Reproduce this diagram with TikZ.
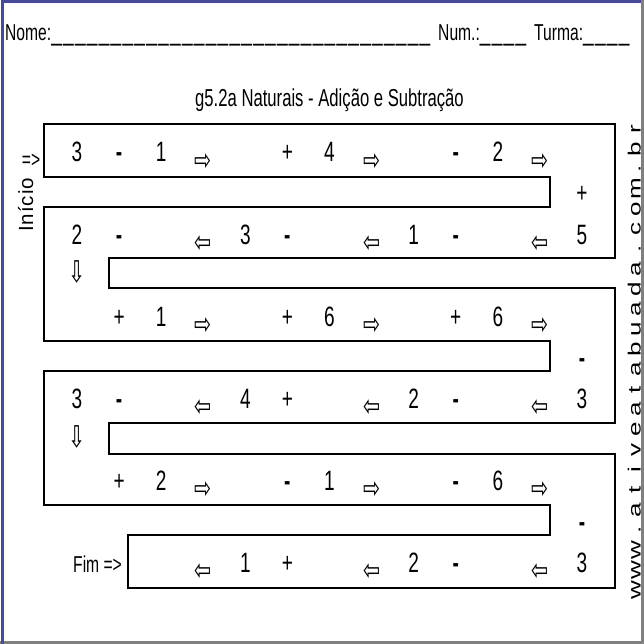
\documentclass[tikz,border=0pt]{standalone}
\usepackage{fontspec}
\setmainfont{Liberation Sans}
\newfontfamily\nar{Liberation Sans}[FakeStretch=0.68]
\newfontfamily\arrfont{DejaVu Sans}[FakeStretch=0.68]
\newfontfamily\widefont{Liberation Sans}[FakeStretch=1.47]
\definecolor{frameblue}{RGB}{72,72,160}
\definecolor{framegray}{RGB}{128,128,128}
\newcommand\colx[1]{77+42.08*#1}
\newcommand\mn{\bfseries -}
\newcommand\us{{\fontsize{28}{28}\selectfont\_}\kern1.3pt}
\tikzset{
  dig/.style={anchor=base, inner sep=0pt, font=\nar\fontsize{28}{28}\selectfont},
  arr/.style={anchor=center, inner sep=0pt, font=\arrfont\fontsize{30}{30}\selectfont},
  darr/.style={anchor=center, inner sep=0pt, font=\arrfont\fontsize{30}{30}\selectfont},
  lab/.style={anchor=base west, inner sep=0pt, font=\nar\fontsize{23}{23}\selectfont},
  wall/.style={draw=black, line width=1.4pt, line join=miter},
  vert/.style={rotate=90, anchor=base, inner sep=0pt, font=\widefont\fontsize{17.7}{17.7}\selectfont}
}
\begin{document}
\begin{tikzpicture}[x=1pt,y=-1pt]
\useasboundingbox (0,0) rectangle (644,644);
\fill[white] (0,0) rectangle (644,644);
% frame
\draw[framegray, line width=3pt] (642.5,0) -- (642.5,642.5) -- (0,642.5);
\draw[frameblue, line width=3pt] (2.5,644) -- (2.5,1.5) -- (641,1.5);
% header
\node[lab] (nome) at (5,41) {Nome:\us\us\us\us\us\us\us\us\us\us\us\us\us\us\us\us\us\us\us\us\us\us\us\us\us\us\us\us\us\us\us\us};
\node[lab] (num) at (438,41) {Num.:\us\us\us\us};
\node[lab] (turma) at (534,41) {Turma:\us\us\us\us};
\node[anchor=base, inner sep=0pt, font=\nar\fontsize{24.5}{24.5}\selectfont] (title) at (329.5,107) {g5.2a Naturais - Adição e Subtração};
% snake outline
\draw[wall] (44,177) -- (44,124) -- (615,124) -- (615,258) -- (109,258) -- (109,288)
  -- (615,288) -- (615,423) -- (109,423) -- (109,454) -- (615,454) -- (615,588)
  -- (128,588) -- (128,535) -- (550,535) -- (550,505) -- (44,505) -- (44,371)
  -- (550,371) -- (550,341) -- (44,341) -- (44,207) -- (550,207) -- (550,177) -- cycle;
% labels
\node[lab, anchor=base] (start) at (31,168) {=>};
\node[rotate=90, anchor=base, inner sep=0pt, font=\fontsize{20.5}{20.5}\selectfont] (inicio) at (33,205) {I\kern1pt n\kern1pt í\kern1pt c\kern1pt i\kern1pt o};
\node[lab] (fim) at (73,572) {Fim =>};
% numbers and signs
\foreach \r/\yc/\items in {
  1/152/{0/3,1/\mn,2/1,5/+,6/4,9/\mn,10/2},
  2/234/{0/2,1/\mn,4/3,5/\mn,8/1,9/\mn,12/5},
  3/316/{1/+,2/1,5/+,6/6,9/+,10/6},
  4/398/{0/3,1/\mn,4/4,5/+,8/2,9/\mn,12/3},
  5/480/{1/+,2/2,5/\mn,6/1,9/\mn,10/6},
  6/562/{4/1,5/+,8/2,9/\mn,12/3}} {
  \foreach \c/\t in \items {
    \node[dig] (d\r-\c) at ({\colx{\c}},\yc+10) {\t};
  }
}
\node[dig] (m12) at ({\colx{12}},203) {+};
\node[dig] (m34) at ({\colx{12}},367) {\mn};
\node[dig] (m56) at ({\colx{12}},531) {\mn};
% arrows
\foreach \yc/\g [count=\r] in {152/⇨,234/⇦,316/⇨,398/⇦,480/⇨,562/⇦} {
  \foreach \c in {3,7,11} {
    \node[arr] (a\r-\c) at ({\colx{\c}},\yc+10) {\g};
  }
}
\node[darr] (down1) at ({\colx{0}},272) {⇩};
\node[darr] (down2) at ({\colx{0}},437) {⇩};
% vertical site text
\foreach \ch [count=\k from 0] in {w,w,w,.,a,t,i,v,e,a,t,a,b,u,a,d,a,.,c,o,m,.,b,r} {
  \node[vert] (u\k) at (640.5,590-20.05*\k) {\ch};
}
\end{tikzpicture}
\end{document}
